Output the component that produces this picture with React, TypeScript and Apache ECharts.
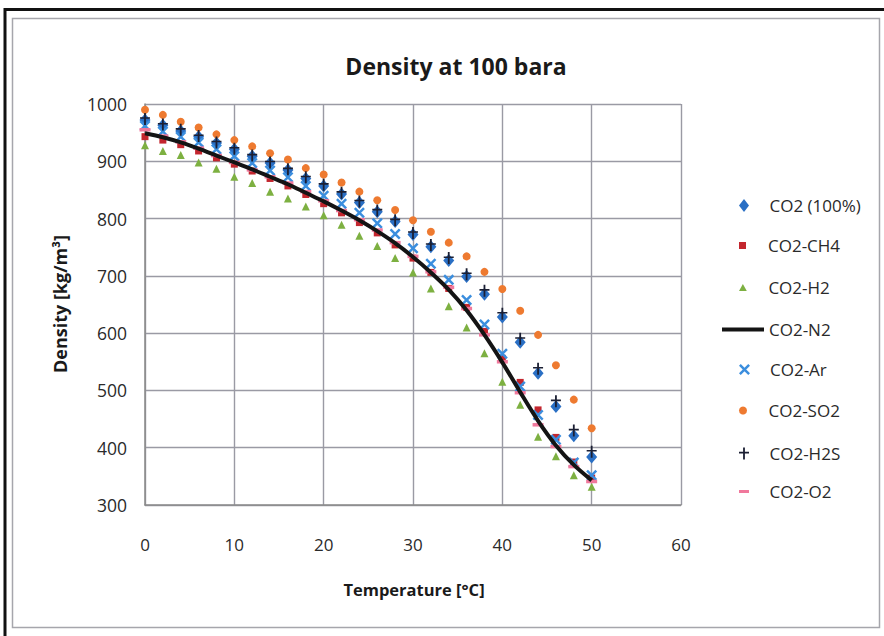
import React, { useEffect, useRef } from "react";
import * as echarts from "echarts";

// Temperatures (°C) at which each mixture's density was evaluated
const temperatures = [0, 2, 4, 6, 8, 10, 12, 14, 16, 18, 20, 22, 24, 26, 28, 30, 32, 34, 36, 38, 40, 42, 44, 46, 48, 50];

// Densities at 100 bara, kg/m³
const co2Pure = [972, 963, 953, 943, 932, 921, 909, 897, 885, 870, 857, 843, 828, 812, 795, 772, 751, 727, 699, 668, 628, 584, 530, 472, 421, 384];
const co2Ch4 = [943, 937, 929, 918, 906, 895, 883, 870, 857, 842, 826, 810, 793, 775, 754, 731, 706, 678, 645, 603, 556, 514, 466, 418, 375, 347];
const co2H2 = [928, 918, 911, 898, 887, 873, 862, 847, 835, 821, 806, 789, 770, 752, 731, 706, 678, 647, 610, 565, 515, 475, 419, 385, 352, 332];
const co2N2 = [949, 942, 933, 922, 910, 898, 886, 873, 860, 845, 830, 814, 797, 778, 757, 733, 706, 676, 640, 597, 549, 497, 447, 404, 370, 343];
const co2Ar = [962, 952, 943, 933, 921, 909, 897, 884, 872, 857, 840, 826, 810, 792, 773, 748, 721, 693, 658, 615, 564, 507, 457, 414, 374, 352];
const co2So2 = [990, 981, 969, 959, 947, 937, 926, 914, 903, 888, 877, 863, 847, 832, 815, 797, 777, 758, 734, 707, 677, 639, 597, 544, 484, 434];
const co2H2s = [974, 964, 955, 944, 933, 922, 910, 898, 886, 872, 859, 845, 830, 814, 797, 775, 754, 731, 703, 674, 634, 590, 538, 481, 430, 393];
const co2O2 = [955, 944, 934, 923, 910, 898, 885, 873, 862, 847, 831, 814, 798, 780, 758, 734, 707, 680, 643, 597, 550, 496, 440, 402, 367, 341];

const xTicks = { min: 0, max: 60, step: 10 };
const yTicks = { min: 300, max: 1000, step: 100 };

const FONT = "'Open Sans', 'Noto Sans', sans-serif";

const pts = (vals: number[]) => temperatures.map((t, i) => [t, vals[i]]);

// Marker shapes
const DIAMOND = "path://M5,0L10,6.5L5,13L0,6.5Z";
const SQUARE = "path://M0,0H10V10H0Z";
const TRIANGLE = "path://M5,0L10,9L0,9Z";
const CROSS_X = "path://M0,1.6L1.6,0L10,8.4L8.4,10ZM8.4,0L10,1.6L1.6,10L0,8.4Z";
const PLUS = "path://M4.1,0H5.9V12H4.1ZM0,4.3H10V5.9H0Z";
const DASH = "path://M0,0H10V3H0Z";

type Entry = { name: string; y: number; h: number; line?: boolean };
const legendEntries: Entry[] = [
  { name: "CO2 (100%)", y: 209, h: 13 },
  { name: "CO2-CH4", y: 249, h: 7 },
  { name: "CO2-H2", y: 291, h: 7 },
  { name: "CO2-N2", y: 333, h: 4, line: true },
  { name: "CO2-Ar", y: 373, h: 11 },
  { name: "CO2-SO2", y: 414, h: 8 },
  { name: "CO2-H2S", y: 457, h: 12 },
  { name: "CO2-O2", y: 495, h: 3 },
];

export default function App() {
  const ref = useRef<HTMLDivElement>(null);

  useEffect(() => {
    if (!ref.current) return;
    const chart = echarts.init(ref.current, undefined, { renderer: "svg" });

    const scatter = (name: string, vals: number[], symbol: string, size: number | number[], color: string) => ({
      name,
      type: "scatter",
      data: pts(vals),
      symbol,
      symbolSize: size,
      itemStyle: { color, opacity: 1 },
    });

    chart.setOption({
      animation: false,
      backgroundColor: "#ffffff",
      textStyle: { fontFamily: FONT },
      grid: { left: 145, top: 104, right: 203, bottom: 131, containLabel: false },
      xAxis: {
        type: "value",
        min: xTicks.min,
        max: xTicks.max,
        interval: xTicks.step,
        axisLine: { show: true, lineStyle: { color: "#8a8a8a", width: 1.5 } },
        axisTick: { show: false },
        axisLabel: { margin: 31, fontSize: 17, color: "#2a2a2a", fontFamily: FONT, formatter: (v: number) => String(v) },
        splitLine: { show: true, lineStyle: { color: "#9a9aa4", width: 1.4 } },
      },
      yAxis: {
        type: "value",
        min: yTicks.min,
        max: yTicks.max,
        interval: yTicks.step,
        axisLine: { show: true, lineStyle: { color: "#8a8a8a", width: 1.5 } },
        axisTick: { show: false },
        axisLabel: { margin: 18, fontSize: 17.5, color: "#2a2a2a", fontFamily: FONT, formatter: (v: number) => String(v) },
        splitLine: { show: true, lineStyle: { color: "#9a9aa4", width: 1.4 } },
      },
      legend: legendEntries.map((e) => ({
        data: [e.name],
        left: e.line ? 720 : 739,
        top: e.y - 12,
        padding: 0,
        orient: "vertical",
        itemWidth: e.line ? 42 : 25,
        itemHeight: e.h,
        selectedMode: false,
        symbolKeepAspect: true,
        lineStyle: e.line ? { width: 4, color: "#141414" } : undefined,
        textStyle: { fontSize: 17, color: "#2a2a2a", fontFamily: FONT, padding: e.line ? 0 : [0, 0, 0, 8] },
      })),
      series: [
        scatter("CO2 (100%)", co2Pure, DIAMOND, [11, 13], "#2a6fc4"),
        scatter("CO2-CH4", co2Ch4, SQUARE, 7, "#c3262e"),
        scatter("CO2-H2", co2H2, TRIANGLE, [8, 8], "#7db041"),
        {
          name: "CO2-N2",
          type: "line",
          data: pts(co2N2),
          showSymbol: false,
          symbol: "none",
          smooth: 0.3,
          lineStyle: { color: "#141414", width: 4 },
          itemStyle: { color: "#141414" },
        },
        scatter("CO2-Ar", co2Ar, CROSS_X, 11, "#3b8ede"),
        scatter("CO2-SO2", co2So2, "circle", 8, "#ee7a30"),
        scatter("CO2-H2S", co2H2s, PLUS, [10, 12], "#1b1f33"),
        scatter("CO2-O2", co2O2, DASH, [11, 3.5], "#f0789c"),
      ],
      graphic: [
        // chart frame
        { type: "rect", shape: { x: 5, y: 9.5, width: 910, height: 700 }, style: { fill: "none", stroke: "#111", lineWidth: 3 }, silent: true, z: 100 },
        { type: "rect", shape: { x: 12.5, y: 18.5, width: 867, height: 609 }, style: { fill: "none", stroke: "#a6a6ac", lineWidth: 1.5 }, silent: true, z: 100 },
        {
          type: "text",
          x: 456,
          y: 66,
          style: { text: "Density at 100 bara", align: "center", verticalAlign: "middle", font: `bold 23px ${FONT}`, fill: "#1a1a1a" },
        },
        {
          type: "text",
          x: 414,
          y: 589,
          style: { text: "Temperature [°C]", align: "center", verticalAlign: "middle", font: `bold 16.5px ${FONT}`, fill: "#1a1a1a" },
        },
        {
          type: "text",
          x: 60,
          y: 304,
          rotation: Math.PI / 2,
          style: { text: "Density [kg/m³]", align: "center", verticalAlign: "middle", font: `bold 18px ${FONT}`, fill: "#1a1a1a" },
        },
      ],
    });

    return () => chart.dispose();
  }, []);

  return <div ref={ref} style={{ width: 884, height: 636, position: "absolute", left: 0, top: 0 }} />;
}
